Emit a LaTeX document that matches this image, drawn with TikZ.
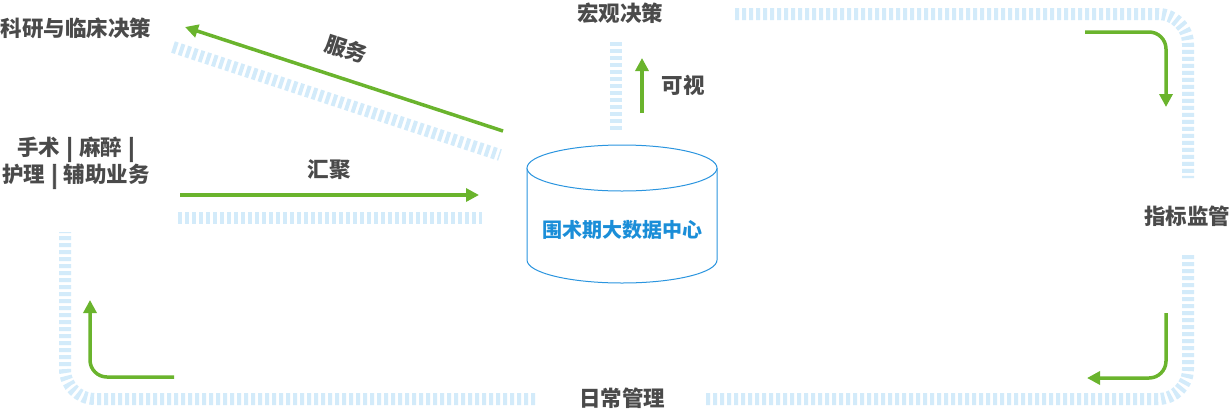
\documentclass[tikz,border=0pt]{standalone}
\usepackage{fontspec}
\setmainfont{Noto Sans CJK SC}
\newfontfamily\barfont[FakeBold=3]{Noto Sans CJK SC}
\usetikzlibrary{arrows.meta}
\definecolor{txtgray}{HTML}{4A4A4A}
\definecolor{arrowgreen}{HTML}{6AB42D}
\definecolor{bandblue}{HTML}{D3EBFA}
\definecolor{dbblue}{HTML}{2B95DF}
\definecolor{dbtext}{HTML}{1B8ED8}
\newcommand{\vbar}{\hspace{0.28em}{\barfont\bfseries |}\hspace{0.28em}}
\tikzset{
  band/.style={draw=bandblue, line width=12pt, dash pattern=on 4pt off 3pt},
  flow/.style={draw=arrowgreen, line width=3.5pt, -{Triangle[length=13pt,width=13pt]}, rounded corners=17pt},
  lbl/.style={text=txtgray, font=\fontsize{21.5pt}{27pt}\selectfont\bfseries, inner sep=0pt, align=center},
  dbbox/.style={draw=dbblue, line width=1pt, fill=white},
}
\begin{document}
\begin{tikzpicture}[x=1pt,y=-1pt]
\useasboundingbox (0,0) rectangle (1231,408);
% bands
\draw[band] (173,47) -- (500,155);
\draw[band] (178,218) -- (482,218);
\draw[band] (616,42) -- (616,132);
\draw[band, rounded corners=30pt] (735,14) -- (1188,14) -- (1188,178);
\draw[band, rounded corners=30pt] (1188,255) -- (1188,399) -- (705,399);
\draw[band, rounded corners=30pt] (535,399) -- (65,399) -- (65,232);
% cylinder
\draw[dbbox] (527,168) -- (527,260) arc[start angle=180, end angle=360, x radius=95pt, y radius=23pt] -- (717,168);
\draw[dbbox] (622,168) ellipse [x radius=95pt, y radius=23pt];
\node[text=dbtext, font=\fontsize{20pt}{24pt}\selectfont\bfseries, inner sep=0pt] (db) at (622,230) {围术期大数据中心};
% labels
\node[lbl] (kyan) at (76,28) {科研与临床决策};
\node[lbl, rotate=-18] (fuwu) at (346,49) {服务};
\node[lbl] (huiju) at (329,170) {汇聚};
\node[lbl] (keshi) at (683,85) {可视};
\node[lbl] (hongguan) at (620,13) {宏观决策};
\node[lbl] (shoushu) at (76,163) {手术\vbar 麻醉\vbar\\护理\vbar 辅助业务};
\node[lbl] (zhibiao) at (1187,216) {指标监管};
\node[lbl] (richang) at (622,398) {日常管理};
% arrow endpoints
\coordinate (s1) at (503,131); \coordinate (s2) at (185,27);
\coordinate (a1) at (180,195); \coordinate (a2) at (479,195);
\coordinate (v1) at (642,113); \coordinate (v2) at (642,58);
\coordinate (t1) at (1085,32); \coordinate (t2) at (1166,107);
\coordinate (r1) at (1166,313); \coordinate (r2) at (1087,378);
\coordinate (l1) at (174,377); \coordinate (l2) at (90,300);
% arrows
\draw[flow] (s1) -- (s2);
\draw[flow] (a1) -- (a2);
\draw[flow] (v1) -- (v2);
\draw[flow] (t1) -| (t2);
\draw[flow] (r1) |- (r2);
\draw[flow] (l1) -| (l2);
\end{tikzpicture}
\end{document}
